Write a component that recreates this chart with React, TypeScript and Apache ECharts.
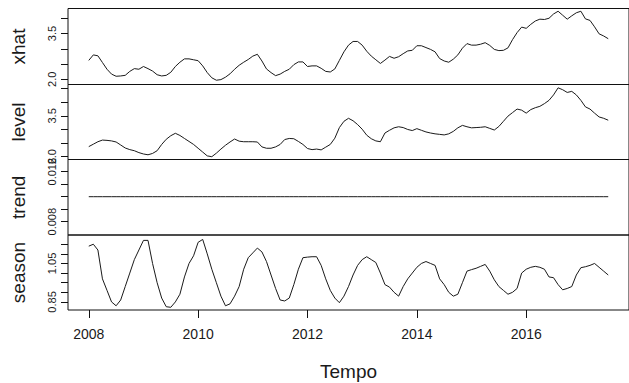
import React, { useEffect, useRef } from "react";
import * as echarts from "echarts";

const START_YEAR = 2008;
const xhat = [
  2.62, 2.8, 2.77, 2.55, 2.33, 2.17, 2.1, 2.11, 2.13, 2.26, 2.35, 2.33,
  2.42, 2.35, 2.27, 2.15, 2.11, 2.13, 2.23, 2.42, 2.56, 2.67, 2.67, 2.64,
  2.61, 2.44, 2.22, 2.05, 1.97, 1.99, 2.07, 2.18, 2.33, 2.46, 2.56, 2.65,
  2.76, 2.82, 2.6, 2.34, 2.22, 2.12, 2.17, 2.26, 2.33, 2.48, 2.57, 2.57,
  2.42, 2.44, 2.44, 2.36, 2.26, 2.24, 2.34, 2.62, 2.9, 3.12, 3.24, 3.24,
  3.12, 2.92, 2.76, 2.64, 2.52, 2.63, 2.75, 2.69, 2.74, 2.84, 2.93, 2.95,
  3.1, 3.1, 3.04, 2.98, 2.9, 2.68, 2.6, 2.56, 2.66, 2.8, 3.02, 3.17,
  3.12, 3.12, 3.15, 3.2, 3.11, 2.98, 2.94, 2.95, 3.03, 3.3, 3.53, 3.71,
  3.67, 3.8, 3.91, 3.97, 3.96, 4.0, 4.14, 4.23, 4.1, 3.97, 4.08, 4.18,
  4.23, 3.98, 3.93, 3.72, 3.49, 3.42, 3.33,
];
const level = [
  2.37, 2.46, 2.55, 2.61, 2.6, 2.58, 2.54, 2.43, 2.32, 2.26, 2.22, 2.15,
  2.1, 2.07, 2.12, 2.22, 2.45, 2.64, 2.77, 2.86, 2.78, 2.67, 2.56, 2.45,
  2.31, 2.17, 2.03, 2.0, 2.13, 2.28, 2.42, 2.54, 2.65, 2.57, 2.55, 2.55,
  2.55, 2.54, 2.36, 2.31, 2.31, 2.36, 2.45, 2.63, 2.67, 2.66, 2.56, 2.45,
  2.3, 2.26, 2.28, 2.25, 2.35, 2.45, 2.68, 3.07, 3.3, 3.41, 3.32, 3.18,
  3.01, 2.79, 2.66, 2.58, 2.55, 2.87, 2.97, 3.06, 3.1, 3.07, 3.0, 2.96,
  3.03, 2.97, 2.91, 2.87, 2.84, 2.82, 2.8, 2.84, 2.93, 3.06, 3.15, 3.1,
  3.06, 3.07, 3.08, 3.1, 3.04, 2.98, 3.11, 3.3, 3.49, 3.62, 3.75, 3.71,
  3.6, 3.73, 3.8, 3.85, 3.95, 4.07, 4.27, 4.53, 4.46, 4.36, 4.4, 4.27,
  4.07, 3.83, 3.75, 3.6, 3.46, 3.41, 3.34,
];
const trendLevel = 0.012;
const season = [
  1.14, 1.15, 1.12, 0.97, 0.91, 0.85, 0.83, 0.86, 0.93, 1.0, 1.07, 1.12,
  1.17, 1.17, 1.05, 0.95, 0.87, 0.825, 0.822, 0.85, 0.89, 0.98, 1.05, 1.09,
  1.16, 1.175, 1.1, 1.02, 0.95, 0.88, 0.83, 0.84, 0.88, 0.93, 1.02, 1.08,
  1.105, 1.13, 1.11, 1.06, 0.99, 0.92, 0.86, 0.855, 0.87, 0.94, 1.02, 1.08,
  1.083, 1.085, 1.085, 1.04, 0.97, 0.91, 0.87, 0.846, 0.88, 0.93, 0.99, 1.04,
  1.07, 1.085, 1.07, 1.055, 1.0, 0.94, 0.927, 0.9, 0.88, 0.93, 0.97, 1.0,
  1.03, 1.05, 1.06, 1.05, 1.04, 0.97, 0.94, 0.9, 0.88, 0.89, 0.95, 1.01,
  1.018, 1.025, 1.035, 1.045, 1.01, 0.965, 0.93, 0.91, 0.89, 0.9, 0.92, 1.0,
  1.02, 1.03, 1.035, 1.03, 1.02, 0.98, 0.976, 0.94, 0.913, 0.92, 0.93, 0.99,
  1.028, 1.033, 1.04, 1.05, 1.03, 1.01, 0.99,
];

const xTicks = [2008, 2010, 2012, 2014, 2016];
const panelNames = ["xhat", "level", "trend", "season"];
const yTicks = [
  [2.0, 2.5, 3.0, 3.5, 4.0],
  [2.0, 2.5, 3.0, 3.5, 4.0, 4.5],
  [0.008, 0.01, 0.012, 0.014, 0.016],
  [0.85, 0.9, 0.95, 1.0, 1.05, 1.1, 1.15],
];
const yLabels = [
  [2.0, 3.5],
  [2.0, 3.5],
  [0.008, 0.016],
  [0.85, 1.05],
];
const yDecimals = [1, 1, 3, 2];
const yRanges = [
  [1.83, 4.32],
  [1.897, 4.652],
  [0.00587, 0.01795],
  [0.808, 1.198],
];

const FONT = "Liberation Sans, Arial, sans-serif";
const NARROW = "Liberation Sans Narrow, Liberation Sans, Arial, sans-serif";

export default function App() {
  const ref = useRef<HTMLDivElement>(null);
  useEffect(() => {
    if (!ref.current) return;
    const chart = echarts.init(ref.current, null, { renderer: "svg" });
    const times = xhat.map((_, i) => START_YEAR + i / 12);
    const seriesData = [
      xhat,
      level,
      xhat.map(() => trendLevel),
      season,
    ];
    const tops = [8.5, 84.5, 159.5, 235];
    const heights = [76, 75, 75.5, 75];
    const grids = tops.map((t, i) => ({
      left: 68,
      top: t,
      width: 562,
      height: heights[i],
      show: true,
      borderColor: "#111",
      borderWidth: 1,
      backgroundColor: "transparent",
      containLabel: false,
    }));
    const xAxes = tops.map((_, i) => {
      const last = i === 3;
      return {
        type: "value",
        gridIndex: i,
        min: 2007.62,
        max: 2017.88,
        axisLine: { show: false },
        splitLine: { show: false },
        axisTick: last
          ? {
              show: true,
              inside: false,
              length: 8,
              customValues: xTicks,
              lineStyle: { color: "#111", width: 1 },
            }
          : { show: false },
        axisLabel: last
          ? {
              show: true,
              customValues: xTicks,
              margin: 17,
              fontSize: 14,
              fontFamily: NARROW,
              color: "#1a1a1a",
              formatter: (v: number) => String(Math.round(v)),
            }
          : { show: false },
        name: last ? "Tempo" : "",
        nameLocation: "middle",
        nameGap: 52,
        nameTextStyle: { fontSize: 19, fontFamily: NARROW, color: "#1a1a1a" },
      };
    });
    const yAxes = tops.map((_, i) => ({
      type: "value",
      gridIndex: i,
      min: yRanges[i][0],
      max: yRanges[i][1],
      axisLine: { show: false },
      splitLine: { show: false },
      axisTick: {
        show: true,
        inside: false,
        length: 7,
        customValues: yTicks[i],
        lineStyle: { color: "#111", width: 1 },
      },
      axisLabel: {
        show: true,
        customValues: yLabels[i],
        rotate: 90,
        margin: 11,
        fontSize: 11,
        fontFamily: FONT,
        color: "#1a1a1a",
        formatter: (v: number) => v.toFixed(yDecimals[i]),
      },
      name: panelNames[i],
      nameLocation: "middle",
      nameRotate: 90,
      nameGap: 40,
      nameTextStyle: { fontSize: 19, fontFamily: FONT, color: "#1a1a1a" },
    }));
    const series = seriesData.map((vals, i) => ({
      type: "line",
      xAxisIndex: i,
      yAxisIndex: i,
      data: vals.map((v, k) => [times[k], v]),
      showSymbol: false,
      symbol: "none",
      lineStyle: { color: "#1a1a1a", width: 1 },
      clip: true,
    }));
    chart.setOption({
      animation: false,
      backgroundColor: "#fff",
      grid: grids,
      xAxis: xAxes,
      yAxis: yAxes,
      series,
    });
    return () => chart.dispose();
  }, []);
  return (
    <div
      ref={ref}
      style={{ position: "fixed", left: 0, top: 0, width: 629, height: 383 }}
    />
  );
}
